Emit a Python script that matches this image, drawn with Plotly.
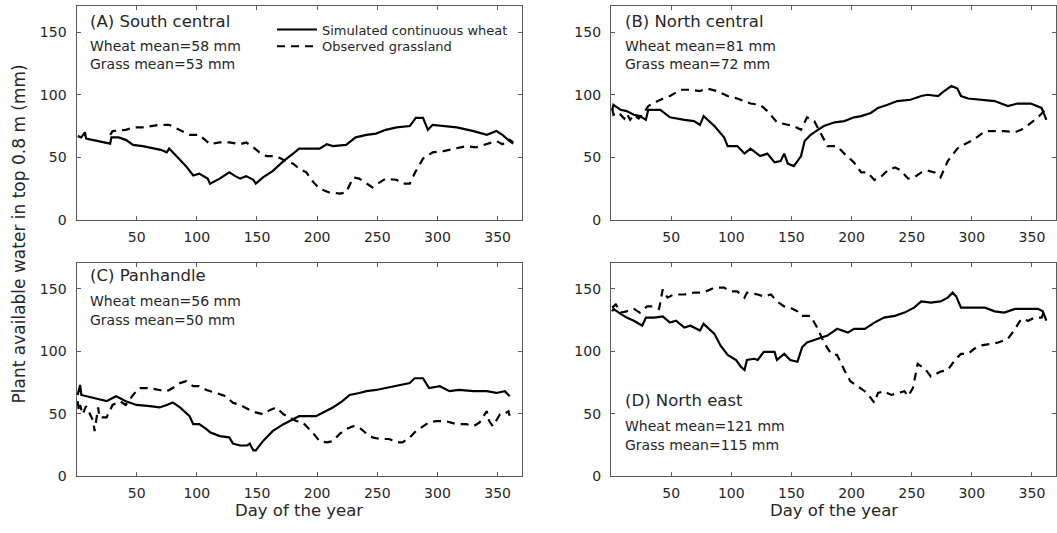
import plotly.graph_objects as go

# ---------------- data ----------------
# Panel A: South central
a_wheat_day = [1, 4, 7, 8, 18, 25, 28, 29, 35, 41, 47, 55, 64, 70, 75, 77, 83, 91, 97, 102, 109, 111, 119, 127, 132, 136, 141, 147, 149, 155, 163, 172, 180, 185, 197, 202, 208, 213, 224, 232, 241, 249, 257, 266, 277, 282, 288, 292, 296, 305, 316, 330, 341, 349, 354, 360, 363]
a_wheat_val = [67, 66, 70, 65, 63, 62, 61, 66, 66, 64, 60, 59, 57, 56, 54, 57, 51, 43, 35.5, 37, 33, 29, 33, 38, 35, 33, 35, 32, 29, 34, 39, 47, 53, 57, 57, 57, 60.5, 59, 60, 66, 68, 69, 72, 74, 75, 81.6, 81.6, 72, 76, 75, 74, 71, 68, 71, 68, 63, 61]
a_grass_day = [28, 30, 41, 47, 55, 61, 69, 77, 86, 94, 102, 108, 111, 119, 127, 136, 141, 147, 152, 158, 166, 174, 180, 185, 191, 197, 202, 210, 219, 224, 230, 235, 241, 246, 252, 257, 266, 271, 277, 282, 288, 296, 305, 316, 324, 332, 341, 349, 354, 360, 363]
a_grass_val = [68, 71, 72, 74, 74, 75, 76, 76, 72, 68, 68, 63, 60.5, 62, 62, 60.5, 62, 58, 54, 51, 51, 47, 45, 41, 38, 30, 25, 22, 21, 22, 34, 33, 29, 26, 30, 33, 32, 29, 29, 39, 49, 54, 55, 57, 59, 58, 60.5, 63, 60.5, 64, 62]

# Panel B: North central
b_wheat_day = [1, 2, 8, 13, 19, 24, 29, 31, 41, 49, 61, 69, 74, 77, 86, 94, 97, 105, 111, 116, 124, 130, 136, 141, 144, 147, 152, 158, 161, 166, 172, 177, 186, 194, 202, 208, 216, 222, 230, 238, 249, 258, 263, 272, 277, 283, 288, 291, 297, 308, 319, 330, 338, 349, 358, 362]
b_wheat_val = [88, 92, 88, 87, 84, 83, 80, 88, 88, 82, 80, 79, 76, 83, 75, 66, 59, 59, 53, 57, 51, 53, 46, 47, 53, 45, 43, 51, 63, 68, 72, 75, 78, 79, 82, 83, 85.5, 89.5, 92, 95, 96, 99, 100, 99, 103, 107, 105, 99, 97, 96, 95, 91, 93, 93, 89.5, 80]
b_grass_day = [1, 2, 6, 11, 13, 16, 19, 23, 27, 31, 41, 49, 58, 66, 74, 80, 88, 97, 105, 116, 124, 130, 138, 147, 152, 158, 163, 169, 174, 180, 188, 194, 202, 208, 213, 219, 224, 230, 236, 241, 247, 252, 258, 263, 269, 274, 280, 288, 294, 302, 311, 319, 327, 336, 341, 347, 355, 361]
b_grass_val = [89, 84, 86, 81, 85, 80, 84, 81, 85, 91, 96, 99, 104, 104, 103, 105, 103, 99, 97, 93, 92, 87, 78, 76, 75, 72, 82, 79, 70, 59, 59, 53, 46, 38, 38, 32, 34, 39.5, 42, 39.5, 33, 34, 38, 39.5, 38, 34, 47, 57, 60.5, 64.5, 71, 71, 71, 70, 72, 76, 82, 88]

# Panel C: Panhandle
c_wheat_day = [1, 3, 4, 14, 25, 30, 33, 41, 50, 61, 69, 75, 80, 86, 94, 97, 102, 108, 111, 119, 127, 130, 136, 142, 144, 147, 149, 155, 163, 172, 180, 185, 194, 199, 205, 213, 221, 227, 235, 241, 249, 257, 266, 277, 281, 288, 293, 302, 310, 318, 330, 341, 349, 356, 360]
c_wheat_val = [65, 73, 65, 62.6, 60, 62.6, 64, 60, 57, 56, 55, 57, 59, 55, 48, 41.6, 41.6, 37.6, 35, 32, 31, 26, 24.5, 24.5, 26, 20.5, 20.5, 28, 36, 41.6, 45.5, 48, 48, 48, 51, 55, 60, 65, 66.6, 68, 69, 70.5, 72, 74.5, 78.4, 78.4, 70.5, 72, 68, 69, 68, 68, 66.6, 68, 64]
c_grass_day = [1, 2, 3, 5, 8, 11, 14, 15, 18, 19, 25, 30, 36, 41, 47, 52, 61, 69, 75, 80, 86, 91, 97, 102, 108, 116, 124, 130, 136, 144, 149, 155, 161, 166, 172, 177, 183, 188, 197, 202, 208, 213, 219, 224, 230, 235, 241, 246, 252, 260, 266, 271, 277, 282, 288, 293, 299, 307, 316, 324, 330, 335, 341, 343, 346, 352, 355, 359, 360]
c_grass_val = [60, 52, 57, 49.5, 56, 49.5, 44, 36, 55, 47, 47, 57, 60, 57, 65, 70.5, 70.5, 69, 68, 70.5, 74.5, 76, 72, 72, 69, 66.6, 64, 58.7, 57, 53, 51, 49.5, 53, 55, 49.5, 47, 44, 43, 34, 28, 27, 28, 34, 37.6, 40, 39, 34, 31, 29.7, 29.7, 27, 27, 31, 36, 40, 43, 44, 44, 41.6, 41.6, 40, 43, 52, 44, 40, 49.5, 49.5, 52, 48]

# Panel D: North east
d_wheat_day = [1, 2, 8, 13, 19, 26, 29, 36, 43, 49, 54, 61, 66, 74, 77, 86, 91, 97, 104, 108, 111, 113, 119, 122, 127, 136, 138, 144, 149, 155, 159, 163, 172, 180, 188, 197, 202, 211, 219, 227, 236, 244, 252, 258, 266, 274, 280, 284, 287, 291, 299, 311, 319, 327, 336, 347, 355, 359, 362]
d_wheat_val = [132, 134, 130, 127, 124.5, 120.5, 127, 127, 128, 123, 124.5, 119, 120.5, 116.6, 122, 114, 104.7, 97, 93, 87.6, 85, 93, 94, 93, 99.5, 99.5, 93, 98, 93, 91.6, 103.4, 107, 110, 112.6, 118, 115, 118, 118, 123, 127, 128.4, 131, 135, 140, 139, 140, 143, 147, 144, 135, 135, 135, 132, 131, 134, 134, 134, 132, 124.5]
d_grass_day = [1, 4, 8, 13, 19, 24, 30, 36, 40, 43, 47, 52, 61, 69, 77, 86, 94, 99, 105, 111, 113, 122, 127, 133, 138, 144, 149, 155, 158, 166, 172, 177, 183, 188, 194, 199, 205, 211, 216, 219, 222, 227, 233, 238, 244, 247, 251, 255, 261, 266, 274, 280, 286, 291, 297, 302, 308, 316, 322, 330, 336, 341, 347, 352, 358, 361]
d_grass_val = [135, 137.6, 131, 132, 134, 131, 136, 136, 134, 149.5, 143, 145.5, 145.5, 147, 147, 151, 151, 148, 148, 143, 147, 145.5, 144, 145.5, 140, 136, 135, 132, 128.4, 128.4, 118, 107, 98, 97, 85, 76, 72, 68, 62.6, 58.7, 66.6, 68, 65, 66.6, 68, 64, 70.5, 90, 86, 79.7, 83.7, 85, 93, 98, 98, 102, 104.7, 106, 107, 110, 118, 125.8, 124.5, 127, 127, 134]

panel_titles = ["(A) South central", "(B) North central", "(C) Panhandle", "(D) North east"]
wheat_means = ["Wheat mean=58 mm", "Wheat mean=81 mm", "Wheat mean=56 mm", "Wheat mean=121 mm"]
grass_means = ["Grass mean=53 mm", "Grass mean=72 mm", "Grass mean=50 mm", "Grass mean=115 mm"]
legend_names = ["Simulated continuous wheat", "Observed grassland"]
x_ticks = [50, 100, 150, 200, 250, 300, 350]
y_ticks = [0, 50, 100, 150]
x_title = "Day of the year"
y_title = "Plant available water in top 0.8 m (mm)"

# ---------------- layout geometry ----------------
W, H = 1057, 533
FONT = "DejaVu Sans"
AX_COLOR = "#5a5a5a"
TXT = "#262626"

def px(x):
    return x / W

def py(y):
    return 1 - y / H

xdom_left = [px(76.5), px(521.7)]
xdom_right = [px(611), px(1056)]
ydom_top = [py(223.3), py(6)]
ydom_bot = [py(483.3), py(266.7)]

series = [
    (a_wheat_day, a_wheat_val, a_grass_day, a_grass_val),
    (b_wheat_day, b_wheat_val, b_grass_day, b_grass_val),
    (c_wheat_day, c_wheat_val, c_grass_day, c_grass_val),
    (d_wheat_day, d_wheat_val, d_grass_day, d_grass_val),
]
axes = [("x", "y"), ("x2", "y2"), ("x3", "y3"), ("x4", "y4")]

fig = go.Figure()
for i, (wd, wv, gd, gv) in enumerate(series):
    xa, ya = axes[i]
    fig.add_trace(go.Scatter(
        x=wd, y=wv, mode="lines", xaxis=xa, yaxis=ya,
        line=dict(color="black", width=2.2), name=legend_names[0],
        showlegend=(i == 0), legend="legend"))
    fig.add_trace(go.Scatter(
        x=gd, y=gv, mode="lines", xaxis=xa, yaxis=ya,
        line=dict(color="black", width=2.2, dash="8px,6px"), name=legend_names[1],
        showlegend=(i == 0), legend="legend2"))

def xaxis_style(dom, anchor):
    return dict(domain=dom, anchor=anchor, range=[0, 370], tickvals=x_ticks,
                ticks="inside", ticklen=4, tickcolor=AX_COLOR, mirror="ticks",
                showline=True, linecolor=AX_COLOR, linewidth=1.2, showgrid=False,
                zeroline=False, tickfont=dict(family=FONT, size=14, color=TXT),
                ticklabelstandoff=4)

def yaxis_style(dom, anchor):
    return dict(domain=dom, anchor=anchor, range=[0, 171], tickvals=y_ticks,
                ticks="inside", ticklen=4, tickcolor=AX_COLOR, mirror="ticks",
                showline=True, linecolor=AX_COLOR, linewidth=1.2, showgrid=False,
                zeroline=False, tickfont=dict(family=FONT, size=14, color=TXT),
                ticklabelstandoff=6)

fig.update_layout(
    width=W, height=H, margin=dict(l=0, r=0, t=0, b=0),
    paper_bgcolor="white", plot_bgcolor="white",
    font=dict(family=FONT, color=TXT),
    xaxis=xaxis_style(xdom_left, "y"), yaxis=yaxis_style(ydom_top, "x"),
    xaxis2=xaxis_style(xdom_right, "y2"), yaxis2=yaxis_style(ydom_top, "x2"),
    xaxis3=xaxis_style(xdom_left, "y3"), yaxis3=yaxis_style(ydom_bot, "x3"),
    xaxis4=xaxis_style(xdom_right, "y4"), yaxis4=yaxis_style(ydom_bot, "x4"),
    legend=dict(x=px(272), y=py(30), xanchor="left", yanchor="middle",
                bgcolor="rgba(0,0,0,0)", font=dict(family=FONT, size=13, color=TXT),
                itemwidth=40, tracegroupgap=0),
    legend2=dict(x=px(272), y=py(47), xanchor="left", yanchor="middle",
                 bgcolor="rgba(0,0,0,0)", font=dict(family=FONT, size=13, color=TXT),
                 itemwidth=40, tracegroupgap=0),
)

# panel labels and mean annotations (pixel positions)
text_pos = [
    (88, 21.7, 46.7, 65.0),
    (622.7, 21.7, 46.7, 65.0),
    (88, 280.0, 306.0, 325.0),
    (622.7, 406.7, 432.7, 451.7),
]
ann = []
for i, (x0, yt, yw, yg) in enumerate(text_pos):
    ann.append(dict(text=panel_titles[i], x=px(x0), y=py(yt), xref="paper", yref="paper",
                    xanchor="left", yanchor="middle", showarrow=False,
                    font=dict(family=FONT, size=16.5, color=TXT)))
    ann.append(dict(text=wheat_means[i], x=px(x0), y=py(yw), xref="paper", yref="paper",
                    xanchor="left", yanchor="middle", showarrow=False,
                    font=dict(family=FONT, size=14, color=TXT)))
    ann.append(dict(text=grass_means[i], x=px(x0), y=py(yg), xref="paper", yref="paper",
                    xanchor="left", yanchor="middle", showarrow=False,
                    font=dict(family=FONT, size=14, color=TXT)))

for xc in [299, 833.5]:
    ann.append(dict(text=x_title, x=px(xc), y=py(518), xref="paper", yref="paper",
                    xanchor="center", yanchor="middle", showarrow=False,
                    font=dict(family=FONT, size=16.5, color=TXT)))
ann.append(dict(text=y_title, x=px(19), y=py(238), xref="paper", yref="paper",
                xanchor="center", yanchor="middle", showarrow=False, textangle=-90,
                font=dict(family=FONT, size=17, color=TXT)))
fig.update_layout(annotations=ann)

fig.write_html("out.html")
